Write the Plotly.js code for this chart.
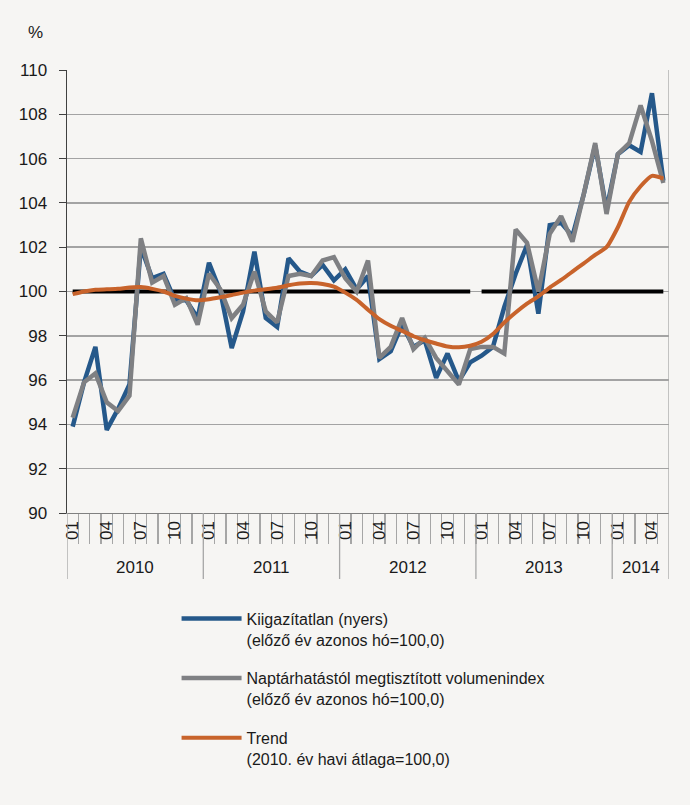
<!DOCTYPE html>
<html><head><meta charset="utf-8">
<script src="https://cdn.plot.ly/plotly-3.0.1.min.js"></script>
<style>html,body{margin:0;padding:0;background:#f6f5f3;}#chart{width:690px;height:805px;}</style>
</head><body><div id="chart"></div>
<script>
const categories = [
 '2010-01','2010-02','2010-03','2010-04','2010-05','2010-06','2010-07','2010-08','2010-09','2010-10','2010-11','2010-12',
 '2011-01','2011-02','2011-03','2011-04','2011-05','2011-06','2011-07','2011-08','2011-09','2011-10','2011-11','2011-12',
 '2012-01','2012-02','2012-03','2012-04','2012-05','2012-06','2012-07','2012-08','2012-09','2012-10','2012-11','2012-12',
 '2013-01','2013-02','2013-03','2013-04','2013-05','2013-06','2013-07','2013-08','2013-09','2013-10','2013-11','2013-12',
 '2014-01','2014-02','2014-03','2014-04','2014-05'];
const labelledMonths = ['01','04','07','10'];
const years = ['2010','2011','2012','2013','2014'];

const raw = [93.9,95.9,97.5,93.75,94.7,95.8,102.0,100.6,100.8,99.6,99.6,98.8,
 101.3,100.0,97.45,99.1,101.8,98.8,98.4,101.5,100.9,100.7,101.2,100.5,
 101.0,100.1,100.7,96.95,97.3,98.5,97.5,97.8,96.1,97.2,95.95,96.8,
 97.1,97.5,99.3,100.8,102.1,99.0,103.0,103.1,102.5,104.4,106.6,103.7,
 106.2,106.6,106.3,108.95,105.0];
const calAdj = [94.3,95.9,96.3,95.0,94.6,95.3,102.4,100.4,100.7,99.4,99.7,98.5,
 100.8,100.1,98.8,99.4,100.9,99.1,98.6,100.7,100.8,100.7,101.4,101.55,
 100.6,100.0,101.4,97.0,97.5,98.8,97.4,97.9,97.0,96.4,95.8,97.4,
 97.5,97.5,97.2,102.8,102.2,100.0,102.6,103.4,102.25,104.4,106.7,103.5,
 106.2,106.7,108.4,106.8,104.9];
const trend = [99.88,100.0,100.08,100.1,100.12,100.18,100.2,100.12,100.0,99.8,99.68,99.6,
 99.65,99.74,99.84,99.95,100.04,100.1,100.17,100.28,100.36,100.38,100.34,100.22,
 99.95,99.62,99.18,98.75,98.45,98.22,97.98,97.8,97.65,97.52,97.48,97.55,
 97.73,98.08,98.6,99.05,99.45,99.78,100.18,100.52,100.9,101.27,101.65,102.0,
 102.9,104.05,104.75,105.22,105.1];
const baseline = categories.map(() => 100);

const names = [
 'Kiigazítatlan (nyers)<br>(előző év azonos hó=100,0)',
 'Naptárhatástól megtisztított volumenindex<br>(előző év azonos hó=100,0)',
 'Trend<br>(2010. év havi átlaga=100,0)'];
const colors = ['#25588a','#7f8083','#c8632b'];

const idx = categories.map((c, i) => i);
const yearOf = categories.map(c => c.slice(0,4));
const monthOf = categories.map(c => c.slice(5));

const FONT = "'Liberation Sans',Arial,sans-serif";
const TXT = '#1a1a1a';

// baseline split into two segments (before / after 2013)
const splitAt = yearOf.indexOf('2013');
const traces = [
 {x: idx.slice(0, splitAt), y: baseline.slice(0, splitAt), mode:'lines', line:{color:'#000', width:3.8}, showlegend:false, hoverinfo:'skip'},
 {x: idx.slice(splitAt), y: baseline.slice(splitAt), mode:'lines', line:{color:'#000', width:3.8}, showlegend:false, hoverinfo:'skip'},
 {x: idx, y: raw, name: names[0], legendgroup:'a', mode:'lines', line:{color:colors[0], width:4.5}, text: categories},
 {x: idx, y: calAdj, name: names[1], legendgroup:'b', mode:'lines', line:{color:colors[1], width:4.5}, text: categories},
 {x: idx, y: trend, name: names[2], legendgroup:'c', mode:'lines', line:{color:colors[2], width:4, shape:'spline', smoothing:0.6}, text: categories}
];

const tickvals = idx.filter(i => labelledMonths.includes(monthOf[i]));
const ticktext = tickvals.map(i => monthOf[i]);
const boundaries = idx.slice(1).map(i => i - 0.5);

const shapes = [];
const annotations = [];
years.forEach(y => {
  const first = yearOf.indexOf(y);
  const last = yearOf.lastIndexOf(y);
  shapes.push({type:'line', xref:'x', yref:'paper', x0:first-0.5, x1:first-0.5, y0:0, y1:-0.149, line:{color:'#a6a6a6', width:1.3}});
  annotations.push({xref:'x', yref:'paper', x:(first+last)/2, y:-0.124, text:y, showarrow:false, xanchor:'center', yanchor:'middle', font:{family:FONT, size:17, color:TXT}});
});
shapes.push({type:'line', xref:'x', yref:'paper', x0:idx.length-0.5, x1:idx.length-0.5, y0:-0.149, y1:1, line:{color:'#a6a6a6', width:1.3}});
annotations.push({xref:'paper', yref:'paper', x:-0.052, y:1.084, text:'%', showarrow:false, xanchor:'center', yanchor:'middle', font:{family:FONT, size:17, color:TXT}});

const layout = {
  width:690, height:805,
  margin:{l:67, r:21, t:70, b:292},
  paper_bgcolor:'#f6f5f3', plot_bgcolor:'#f6f5f3',
  font:{family:FONT, size:16, color:TXT},
  showlegend:true,
  legend:{x:0.182, y:-0.2, xanchor:'left', yanchor:'top', bgcolor:'rgba(0,0,0,0)', font:{family:FONT, size:16, color:TXT},
          valign:'top', itemwidth:60, tracegroupgap:15},
  xaxis:{range:[-0.5, idx.length-0.5], showgrid:false, zeroline:false, showline:true, linecolor:'#808080', linewidth:1.3,
         tickmode:'array', tickvals:tickvals, ticktext:ticktext, ticks:'', tickangle:-90,
         tickfont:{family:FONT, size:17, color:TXT},
         minor:{tickmode:'array', tickvals:boundaries, ticks:'outside', ticklen:30, tickcolor:'#a6a6a6', tickwidth:1.3, showgrid:false}},
  yaxis:{range:[90,110], dtick:2, tick0:90, showgrid:true, gridcolor:'#a3a3a3', gridwidth:1.5, zeroline:false,
         showline:true, linecolor:'#404040', linewidth:1.5, ticks:'outside', ticklen:7, tickcolor:'#404040',
         ticklabelstandoff:8, tickfont:{family:FONT, size:17, color:TXT}},
  shapes:shapes, annotations:annotations
};
Plotly.newPlot('chart', traces, layout, {displayModeBar:false, staticPlot:true});
</script></body></html>
